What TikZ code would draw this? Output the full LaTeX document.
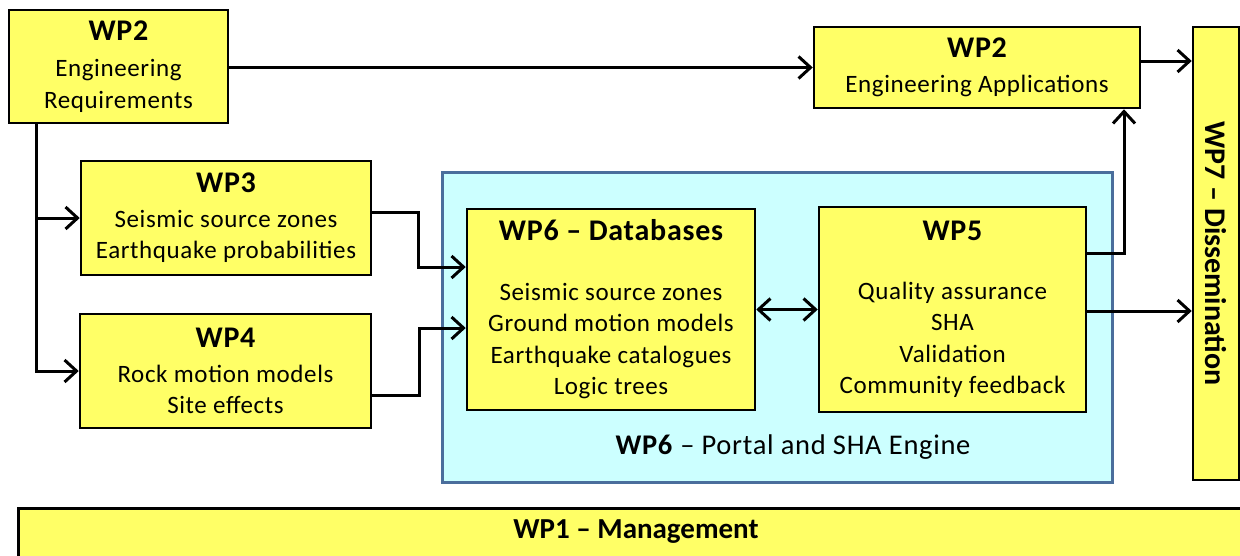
\documentclass[tikz,border=0pt]{standalone}
\usepackage{fontspec}
\setmainfont{Carlito}
\usetikzlibrary{arrows.meta}
\definecolor{boxyellow}{HTML}{FFFF66}
\definecolor{portalcyan}{HTML}{CCFFFF}
\definecolor{portalblue}{HTML}{4A6E9C}
\newcommand\bodyfont{\fontsize{25}{31.5}\selectfont\addfontfeature{LetterSpace=2.5}}
\newcommand\titlefont{\fontsize{30}{36}\selectfont\bfseries}
\tikzset{
  wpbox/.style={draw=black, line width=2.5pt, fill=boxyellow, inner sep=0pt, align=center, font=\bodyfont},
  arr/.style={line width=3pt, -{Straight Barb[length=12pt,width=22pt,line width=3pt]}},
  darr/.style={line width=3pt, {Straight Barb[length=12pt,width=22pt,line width=3pt]}-{Straight Barb[length=12pt,width=22pt,line width=3pt]}},
}
\begin{document}
\begin{tikzpicture}[x=1pt,y=-1pt]
\useasboundingbox (0,0) rectangle (1240,555);
\clip (0,0) rectangle (1240,555);
\fill[white] (0,0) rectangle (1240,555);

% portal container
\node[draw=portalblue, line width=3pt, fill=portalcyan, minimum width=670pt, minimum height=310pt, inner sep=0pt] (portal) at (777,327) {};
\node[font=\fontsize{28.5}{33}\selectfont\addfontfeature{LetterSpace=2.5}] (portallbl) at (793,447) {\textbf{WP6} -- Portal and SHA Engine};

% boxes
\node[wpbox, minimum width=219pt, minimum height=113pt] (er) at (118.5,66.5)
  {{\titlefont WP2}\\[5pt] Engineering\\ Requirements};
\node[wpbox, minimum width=326pt, minimum height=81pt] (ea) at (977,67.5)
  {{\titlefont WP2}\\[3pt] Engineering Applications};
\node[wpbox, minimum width=290pt, minimum height=114pt] (wp3) at (226,218)
  {{\titlefont WP3}\\[3pt] Seismic source zones\\ Earthquake probabilities};
\node[wpbox, minimum width=291pt, minimum height=114pt] (wp4) at (225.5,371)
  {{\titlefont WP4}\\[3pt] Rock motion models\\ Site effects};
\node[wpbox, minimum width=288pt, minimum height=201pt] (db) at (611,309.5)
  {{\titlefont WP6 -- Databases}\\[28pt] Seismic source zones\\ Ground motion models\\ Earthquake catalogues\\ Logic trees};
\node[wpbox, minimum width=267pt, minimum height=205pt] (wp5) at (952.5,309.5)
  {{\titlefont WP5}\\[27pt] Quality assurance\\ SHA\\ Validation\\ Community feedback};
\node[wpbox, minimum width=46pt, minimum height=453pt] (wp7) at (1216,253.5) {};
\node[rotate=-90, font=\titlefont] (wp7lbl) at (wp7.center) {WP7 -- Dissemination};
\node[wpbox, minimum width=1250pt, minimum height=80pt, anchor=north west] (wp1) at (17,507) {};
\node[font=\fontsize{29}{35}\selectfont\bfseries] (wp1lbl) at (636,532) {WP1 -- Management};

% bend points
\coordinate (trunk) at (36,123);
\coordinate (b3) at (418,212);
\coordinate (b4) at (419,395);
\coordinate (b5) at (1124,253);

% connectors
\draw[arr] (er.east |- ea.west) -- (ea.west);
\draw[line width=3pt] (trunk) -- (36,369.5);
\draw[arr] (trunk) |- (wp3.west);
\draw[arr] (trunk) |- (wp4.west);
\draw[arr] (wp3.east |- b3) -- (b3) |- (db.west |- 0,267);
\draw[arr] (wp4.east |- b4) -- (b4) |- (db.west |- 0,328);
\draw[darr] (db.east) -- (wp5.west);
\draw[arr] (wp5.east |- b5) -| (ea.south -| b5);
\draw[arr] (wp5.east |- 0,311) -- (wp7.west |- 0,311);
\draw[arr] (ea.east |- 0,61) -- (wp7.west |- 0,61);
\end{tikzpicture}
\end{document}
